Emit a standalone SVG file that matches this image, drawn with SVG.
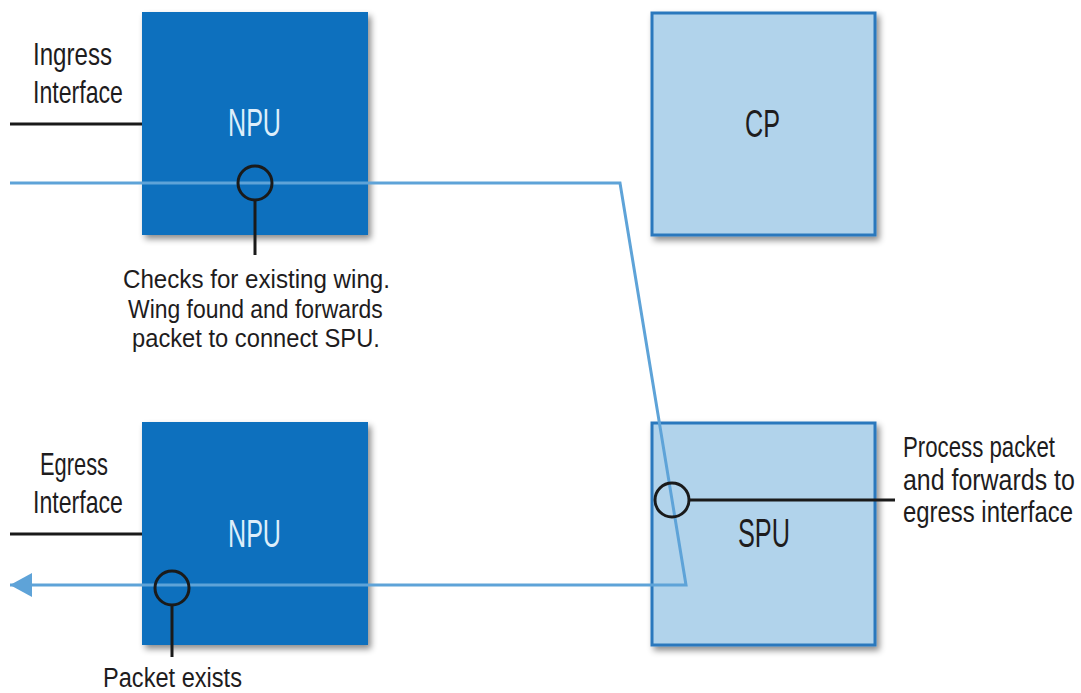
<svg xmlns="http://www.w3.org/2000/svg" width="1081" height="693" viewBox="0 0 1081 693">
  <style>
    .lbl { font-family: "Liberation Sans", Arial, sans-serif; fill: #1e1c1d; }
    .note { font-size: 26px; }
    .proc { font-size: 29px; }
    .side { font-size: 32px; }
    .boxtxt { font-size: 38px; }
    .onblue { fill: #ddeefa; }
    .npu { fill: #0a6fbe; }
    .light { fill: #b1d3eb; stroke: #2a78bd; stroke-width: 3; }
    .wire { stroke: #1a1a1a; stroke-width: 3; fill: none; }
    .flow { stroke: #5ea3d8; stroke-width: 3; fill: none; }
  </style>
  <defs>
    <filter id="sh" x="-10%" y="-10%" width="125%" height="125%">
      <feDropShadow dx="3" dy="4" stdDeviation="3" flood-color="#000" flood-opacity="0.45"/>
    </filter>
    <marker id="arr" markerUnits="userSpaceOnUse" markerWidth="24" markerHeight="26" refX="22" refY="12" orient="auto">
      <path d="M0,0 L22,12 L0,24 z" fill="#5ea3d8"/>
    </marker>
  </defs>
  <rect width="1081" height="693" fill="#ffffff"/>

  <g id="npu-top">
    <rect class="npu" x="142" y="12" width="226" height="223" filter="url(#sh)"/>
    <text class="lbl boxtxt onblue" transform="matrix(0.661 0 0 1 228 136)">NPU</text>
  </g>
  <g id="npu-bottom">
    <rect class="npu" x="142" y="422" width="226" height="223" filter="url(#sh)"/>
    <text class="lbl boxtxt onblue" transform="matrix(0.661 0 0 1 228 547)">NPU</text>
  </g>
  <g id="cp">
    <rect class="light" x="652" y="13" width="223" height="222" filter="url(#sh)"/>
    <text class="lbl boxtxt" transform="matrix(0.663 0 0 1 745 137)">CP</text>
  </g>
  <g id="spu">
    <rect class="light" x="652" y="423" width="223" height="222" filter="url(#sh)"/>
    <text class="lbl boxtxt" style="font-size:40px" transform="matrix(0.632 0 0 1 738 547)">SPU</text>
  </g>

  <g id="connectors">
    <path class="flow" d="M10,183 H620 L686,585 H10" marker-end="url(#arr)"/>
    <line class="wire" x1="10" y1="124" x2="142" y2="124"/>
    <line class="wire" x1="10" y1="534" x2="142" y2="534"/>
    <circle class="wire" cx="255" cy="183" r="17"/>
    <line class="wire" x1="255" y1="200" x2="255" y2="255"/>
    <circle class="wire" cx="172" cy="588" r="17"/>
    <line class="wire" x1="172" y1="605" x2="172" y2="657"/>
    <circle class="wire" cx="672" cy="500" r="17"/>
    <line class="wire" x1="689" y1="500" x2="895" y2="500"/>
  </g>

  <g id="labels">
    <text class="lbl side" transform="matrix(0.753 0 0 1 33 65)">Ingress</text>
    <text class="lbl side" transform="matrix(0.723 0 0 1 33 103)">Interface</text>
    <text class="lbl side" transform="matrix(0.683 0 0 1 40 475)">Egress</text>
    <text class="lbl side" transform="matrix(0.723 0 0 1 33 513)">Interface</text>
    <text class="lbl note" transform="matrix(0.929 0 0 1 123 288)">Checks for existing wing.</text>
    <text class="lbl note" transform="matrix(0.882 0 0 1 128 318)">Wing found and forwards</text>
    <text class="lbl note" transform="matrix(0.913 0 0 1 132 347)">packet to connect SPU.</text>
    <text class="lbl proc" transform="matrix(0.767 0 0 1 903 457)">Process packet</text>
    <text class="lbl proc" transform="matrix(0.860 0 0 1 903 490)">and forwards to</text>
    <text class="lbl proc" transform="matrix(0.824 0 0 1 903 522)">egress interface</text>
    <text class="lbl" style="font-size:28px" transform="matrix(0.843 0 0 1 103 687)">Packet exists</text>
  </g>
</svg>
